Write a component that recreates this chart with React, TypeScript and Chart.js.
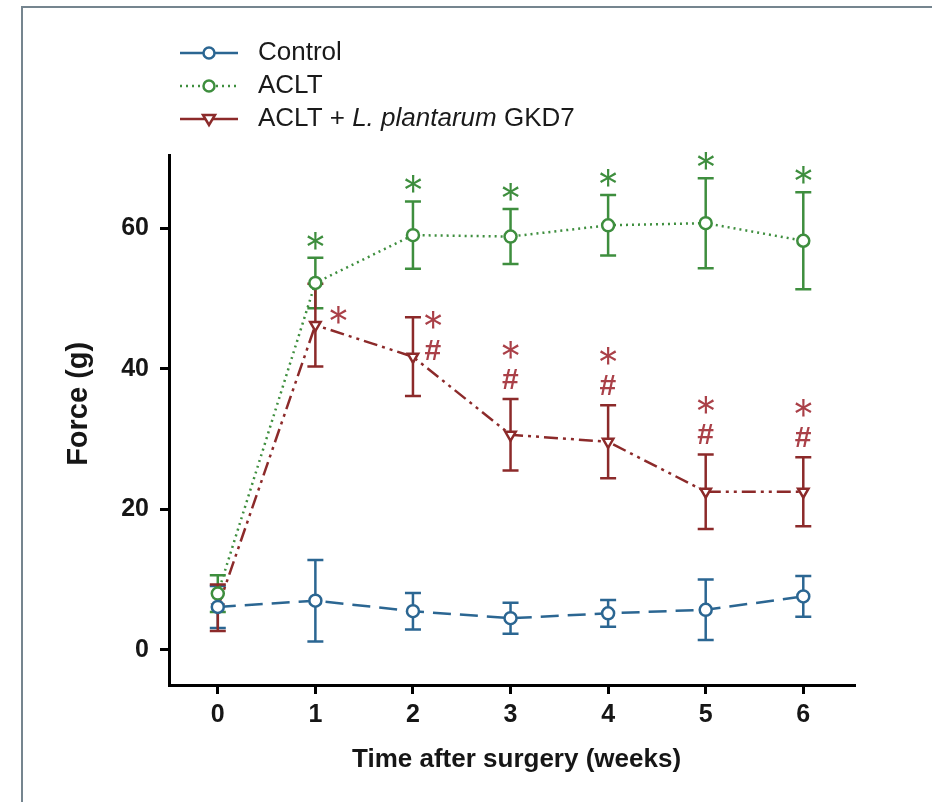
import { useEffect, useRef } from "react";
import { Chart, registerables } from "chart.js";

Chart.register(...registerables);

// ---------- data ----------
const weeks = [0, 1, 2, 3, 4, 5, 6];
const xTicks = [0, 1, 2, 3, 4, 5, 6];
const yTicks = [0, 20, 40, 60];

const controlMean = [6.1, 7.0, 5.5, 4.5, 5.2, 5.7, 7.6];
const controlSem = [3.0, 5.8, 2.6, 2.2, 1.9, 4.3, 2.9];

const acltMean = [8.0, 52.2, 59.0, 58.8, 60.4, 60.7, 58.2];
const acltSem = [2.6, 3.6, 4.8, 3.9, 4.3, 6.4, 6.9];

const gkd7Mean = [6.0, 46.2, 41.7, 30.6, 29.6, 22.5, 22.5];
const gkd7Sem = [3.3, 5.9, 5.6, 5.1, 5.2, 5.3, 4.9];

// significance marks
const acltSig = ["", "*", "*", "*", "*", "*", "*"];
const gkd7Sig = ["", "*", "*#", "*#", "*#", "*#", "*#"];

const legendRows: { text: string; italic: boolean }[][] = [
  [{ text: "Control", italic: false }],
  [{ text: "ACLT", italic: false }],
  [
    { text: "ACLT + ", italic: false },
    { text: "L. plantarum", italic: true },
    { text: " GKD7", italic: false },
  ],
];

const xTitle = "Time after surgery (weeks)";
const yTitle = "Force (g)";

// ---------- styles ----------
const FONT = '"Liberation Sans", Arial, Helvetica, sans-serif';
const STAR_FONT = 'Inter, "DejaVu Sans", sans-serif';
const BLUE = "#2b6692";
const GREEN = "#3e8e3e";
const RED = "#8c2a2a";
const RED_STAR = "#aa4048";

const series = [
  { mean: controlMean, sem: controlSem, color: BLUE },
  { mean: acltMean, sem: acltSem, color: GREEN },
  { mean: gkd7Mean, sem: gkd7Sem, color: RED },
];

function drawInk(ctx: CanvasRenderingContext2D, text: string, cx: number, cy: number) {
  ctx.textAlign = "left";
  ctx.textBaseline = "alphabetic";
  const m = ctx.measureText(text);
  const x = cx - (m.actualBoundingBoxRight - m.actualBoundingBoxLeft) / 2;
  const y = cy + (m.actualBoundingBoxAscent - m.actualBoundingBoxDescent) / 2;
  ctx.fillText(text, x, y);
}

function setStarFont(ctx: CanvasRenderingContext2D, inkWidth: number) {
  ctx.font = `300 100px ${STAR_FONT}`;
  const m = ctx.measureText("*");
  const w = m.actualBoundingBoxRight + m.actualBoundingBoxLeft || 40;
  const size = (100 * inkWidth) / w;
  ctx.font = `300 ${size.toFixed(1)}px ${STAR_FONT}`;
}

const decorPlugin = {
  id: "decor",
  beforeDraw(chart: any) {
    const ctx = chart.ctx as CanvasRenderingContext2D;
    ctx.save();
    ctx.fillStyle = "#ffffff";
    ctx.fillRect(0, 0, chart.width, chart.height);
    ctx.strokeStyle = "#75858f";
    ctx.lineWidth = 2;
    ctx.beginPath();
    ctx.moveTo(22, chart.height);
    ctx.lineTo(22, 7);
    ctx.lineTo(chart.width, 7);
    ctx.stroke();
    ctx.restore();
  },
  beforeDatasetsDraw(chart: any) {
    const ctx = chart.ctx as CanvasRenderingContext2D;
    const xs = chart.scales.x;
    const ys = chart.scales.y;
    ctx.save();
    ctx.setLineDash([]);
    ctx.lineWidth = 2.5;
    series.forEach((s) => {
      ctx.strokeStyle = s.color;
      s.mean.forEach((m, i) => {
        const px = xs.getPixelForValue(weeks[i]);
        const top = ys.getPixelForValue(m + s.sem[i]);
        const bot = ys.getPixelForValue(m - s.sem[i]);
        ctx.beginPath();
        ctx.moveTo(px, top);
        ctx.lineTo(px, bot);
        ctx.moveTo(px - 8, top);
        ctx.lineTo(px + 8, top);
        ctx.moveTo(px - 8, bot);
        ctx.lineTo(px + 8, bot);
        ctx.stroke();
      });
    });
    ctx.restore();
  },
  afterDraw(chart: any) {
    const ctx = chart.ctx as CanvasRenderingContext2D;
    const xs = chart.scales.x;
    const ys = chart.scales.y;
    ctx.save();

    // significance marks, ACLT
    ctx.fillStyle = GREEN;
    setStarFont(ctx, 17);
    acltSig.forEach((mk, i) => {
      if (!mk) return;
      const px = xs.getPixelForValue(weeks[i]);
      const top = ys.getPixelForValue(acltMean[i] + acltSem[i]);
      drawInk(ctx, "*", px, top - 17);
    });

    // significance marks, GKD7
    gkd7Sig.forEach((mk, i) => {
      if (!mk) return;
      const px = xs.getPixelForValue(weeks[i]);
      const top = ys.getPixelForValue(gkd7Mean[i] + gkd7Sem[i]);
      const pt = ys.getPixelForValue(gkd7Mean[i]);
      let starPos: [number, number];
      let hashPos: [number, number];
      if (i === 1) {
        starPos = [px + 23, pt - 10];
        hashPos = [px + 23, pt + 20];
      } else if (i === 2) {
        starPos = [px + 20, top + 3];
        hashPos = [px + 20, top + 33];
      } else {
        starPos = [px, top - 49];
        hashPos = [px, top - 20];
      }
      ctx.fillStyle = RED_STAR;
      if (mk.includes("*")) {
        setStarFont(ctx, 17);
        drawInk(ctx, "*", starPos[0], starPos[1]);
      }
      if (mk.includes("#")) {
        ctx.font = `bold 30px ${FONT}`;
        drawInk(ctx, "#", hashPos[0], hashPos[1]);
      }
    });

    // axis titles
    ctx.fillStyle = "#161616";
    ctx.font = `bold 26px ${FONT}`;
    ctx.textAlign = "center";
    ctx.textBaseline = "middle";
    ctx.fillText(xTitle, (xs.getPixelForValue(0) + xs.getPixelForValue(6)) / 2 + 6, 760);
    ctx.save();
    const yc = (ys.getPixelForValue(0) + ys.getPixelForValue(70)) / 2;
    ctx.translate(79, yc);
    ctx.rotate(-Math.PI / 2);
    ctx.font = `bold 29px ${FONT}`;
    ctx.fillText(yTitle, 0, 0);
    ctx.restore();

    // legend
    const rowsY = [53, 86, 119];
    const styles = [
      { color: BLUE, dash: [] as number[], tri: false },
      { color: GREEN, dash: [2, 4], tri: false },
      { color: RED, dash: [] as number[], tri: true },
    ];
    legendRows.forEach((row, r) => {
      const y = rowsY[r];
      const st = styles[r];
      ctx.strokeStyle = st.color;
      ctx.lineWidth = 2.5;
      ctx.setLineDash(st.dash);
      ctx.beginPath();
      ctx.moveTo(180, y);
      ctx.lineTo(238, y);
      ctx.stroke();
      ctx.setLineDash([]);
      ctx.fillStyle = "#ffffff";
      ctx.beginPath();
      if (st.tri) {
        ctx.moveTo(209 - 6, y - 4);
        ctx.lineTo(209 + 6, y - 4);
        ctx.lineTo(209, y + 6);
        ctx.closePath();
      } else {
        ctx.arc(209, y, 5.5, 0, Math.PI * 2);
      }
      ctx.fill();
      ctx.stroke();

      let x = 258;
      ctx.fillStyle = "#1a1a1a";
      ctx.textAlign = "left";
      ctx.textBaseline = "middle";
      row.forEach((seg) => {
        ctx.font = `${seg.italic ? "italic " : ""}26px ${FONT}`;
        ctx.fillText(seg.text, x, y);
        x += ctx.measureText(seg.text).width;
      });
    });

    ctx.restore();
  },
};

export default function App() {
  const ref = useRef<HTMLCanvasElement | null>(null);

  useEffect(() => {
    if (!ref.current) return;
    const pointCommon = {
      pointRadius: 6,
      pointBorderWidth: 2.5,
      pointBackgroundColor: "#ffffff",
      tension: 0,
      fill: false,
    };
    const chart = new Chart(ref.current, {
      type: "line",
      data: {
        datasets: [
          {
            label: "Control",
            data: weeks.map((w, i) => ({ x: w, y: controlMean[i] })),
            borderColor: BLUE,
            pointBorderColor: BLUE,
            borderWidth: 2.5,
            borderDash: [18, 9],
            pointStyle: "circle",
            ...pointCommon,
          },
          {
            label: "ACLT",
            data: weeks.map((w, i) => ({ x: w, y: acltMean[i] })),
            borderColor: GREEN,
            pointBorderColor: GREEN,
            borderWidth: 2.5,
            borderDash: [2, 4],
            pointStyle: "circle",
            ...pointCommon,
          },
          {
            label: "ACLT + L. plantarum GKD7",
            data: weeks.map((w, i) => ({ x: w, y: gkd7Mean[i] })),
            borderColor: RED,
            pointBorderColor: RED,
            borderWidth: 2.5,
            borderDash: [14, 5, 3, 5, 3, 5],
            pointStyle: "triangle",
            pointRotation: 180,
            ...pointCommon,
          },
        ],
      },
      options: {
        animation: false,
        responsive: false,
        devicePixelRatio: 1,
        layout: { padding: { left: 0, right: 77, top: 155, bottom: 0 } },
        plugins: { legend: { display: false }, tooltip: { enabled: false } },
        scales: {
          x: {
            type: "linear",
            min: -0.5,
            max: 6.53,
            afterFit: (s: any) => {
              s.height = 117;
            },
            afterBuildTicks: (s: any) => {
              s.ticks = xTicks.map((v) => ({ value: v }));
            },
            border: { display: true, color: "#000", width: 3 },
            grid: {
              display: true,
              drawOnChartArea: false,
              drawTicks: true,
              tickLength: 9,
              tickWidth: 3,
              tickColor: "#000",
            },
            ticks: {
              color: "#161616",
              padding: 6,
              font: { family: FONT, size: 25, weight: "bold" },
              callback: (v: any) => String(v),
            },
          },
          y: {
            type: "linear",
            min: -5,
            max: 70.4,
            afterFit: (s: any) => {
              s.width = 169;
            },
            afterBuildTicks: (s: any) => {
              s.ticks = yTicks.map((v) => ({ value: v }));
            },
            border: { display: true, color: "#000", width: 3 },
            grid: {
              display: true,
              drawOnChartArea: false,
              drawTicks: true,
              tickLength: 9,
              tickWidth: 3,
              tickColor: "#000",
            },
            ticks: {
              color: "#161616",
              padding: 11,
              font: { family: FONT, size: 25, weight: "bold" },
              callback: (v: any) => String(v),
            },
          },
        },
      } as any,
      plugins: [decorPlugin],
    });
    return () => chart.destroy();
  }, []);

  return (
    <div style={{ position: "absolute", left: 0, top: 0, width: 932, height: 802 }}>
      <canvas ref={ref} width={932} height={802} style={{ width: 932, height: 802 }} />
    </div>
  );
}
